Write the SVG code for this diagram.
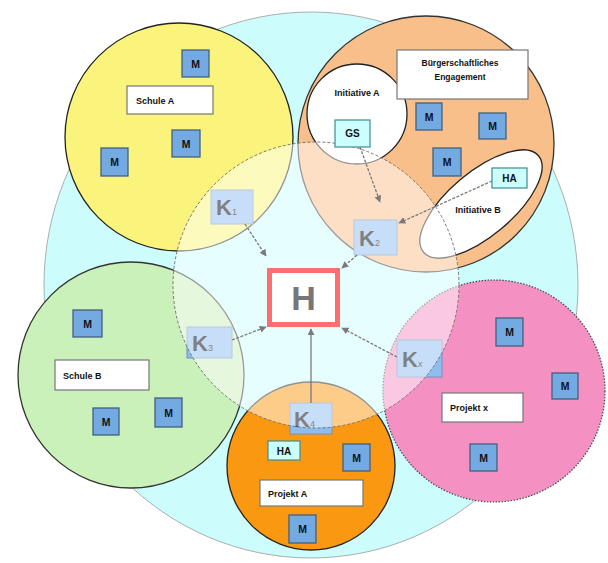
<svg xmlns="http://www.w3.org/2000/svg" width="608" height="563" viewBox="0 0 608 563">
<defs>
<style>
.t{font-family:"Liberation Sans",Arial,sans-serif;font-weight:bold;fill:#111}
.lbl{fill:#fff;stroke:#777;stroke-width:1.2}
.m rect{fill:#74aae2;stroke:#44607e;stroke-width:1.3}
.m text{font-family:"Liberation Sans",Arial,sans-serif;font-weight:bold;font-size:10.5px;fill:#111;text-anchor:middle}
.c{fill:#ccffff;stroke:#3f8c8c;stroke-width:1.2}
.k rect{fill:#8fbdf0;stroke:#6f92bb;stroke-width:1}
.k text{font-family:"Liberation Sans",Arial,sans-serif;font-weight:bold;fill:#000}
.arr{stroke:#7a7a7a;stroke-width:1.3;fill:none;stroke-dasharray:3 1.5;marker-end:url(#ah)}
</style>
<marker id="ah" viewBox="0 0 10 10" refX="9" refY="5" markerWidth="7" markerHeight="7" orient="auto" markerUnits="userSpaceOnUse">
<path d="M0,0 L10,5 L0,10 z" fill="#7a7a7a"/>
</marker>
</defs>
<rect width="608" height="563" fill="#fff"/>
<g id="bg"><ellipse cx="311" cy="285" rx="267" ry="273" fill="#ccfcfc" stroke="#9a9a9a" stroke-width="0.8"/></g>
<g id="schuleA-circle"><circle cx="179" cy="137" r="114" fill="#fbf47c" stroke="#222" stroke-width="1.3"/></g>
<g id="buerger-circle"><circle cx="426" cy="144" r="128" fill="#f8bf8b" stroke="#333" stroke-width="1.3"/></g>
<g id="schuleB-circle"><circle cx="131" cy="375" r="113" fill="#cbf1bb" stroke="#333" stroke-width="1.3"/></g>
<g id="projektx-circle"><circle cx="494" cy="391" r="111" fill="#f590c2" stroke="#444" stroke-width="1.2" stroke-dasharray="1.5 1.5"/></g>
<g id="projektA-circle"><circle cx="311" cy="466" r="84" fill="#fa9812" stroke="#222" stroke-width="1.3"/></g>
<g id="initiativeA-circle"><circle cx="357" cy="114" r="50" fill="#fff" stroke="#222" stroke-width="1.3"/></g>
<g id="initiativeB-ellipse"><ellipse cx="481" cy="204" rx="75" ry="32" transform="rotate(-40 481 204)" fill="#fff" stroke="#222" stroke-width="1.3"/></g>
<g id="K1" class="k"><rect x="211" y="190" width="42" height="34"/><text x="216" y="215" font-size="22">K<tspan font-size="9" font-weight="normal">1</tspan></text></g>
<g id="K2" class="k"><rect x="354" y="220" width="43" height="35"/><text x="359" y="246" font-size="22">K<tspan font-size="9" font-weight="normal">2</tspan></text></g>
<g id="K3" class="k"><rect x="187" y="327" width="45" height="31"/><text x="192" y="351" font-size="22">K<tspan font-size="9" font-weight="normal">3</tspan></text></g>
<g id="K4" class="k"><rect x="290" y="403" width="42" height="31"/><text x="294" y="427" font-size="22">K<tspan font-size="9" font-weight="normal">4</tspan></text></g>
<g id="Kx" class="k"><rect x="397" y="340" width="45" height="37"/><text x="402" y="367" font-size="22">K<tspan font-size="9" font-weight="normal">x</tspan></text></g>
<g id="center-circle"><circle cx="316" cy="285" r="143" fill="#fff" fill-opacity="0.5" stroke="#777" stroke-width="1" stroke-dasharray="3 2"/></g>
<g id="H"><rect x="269.5" y="270.5" width="68" height="54" fill="#fff" stroke="#ff6e6e" stroke-width="5"/><text x="303.5" y="310" font-family="Liberation Sans, Arial, sans-serif" font-weight="bold" font-size="34" fill="#777" text-anchor="middle">H</text></g>
<g id="connectors">
<line class="arr" x1="245" y1="224" x2="266" y2="256"/>
<line class="arr" x1="357" y1="255" x2="342" y2="268"/>
<line class="arr" x1="232" y1="340" x2="266" y2="327"/>
<line class="arr" x1="311" y1="403" x2="311" y2="329" style="stroke-dasharray:none"/>
<line class="arr" x1="397" y1="357" x2="342" y2="328"/>
<line class="arr" x1="360" y1="147" x2="380" y2="202"/>
<line class="arr" x1="492" y1="181" x2="399" y2="223"/>
</g>
<g id="schuleA-label"><rect class="lbl" x="127" y="86" width="86" height="28"/><text class="t" x="136" y="104" font-size="9">Schule A</text></g>
<g id="schuleB-label"><rect class="lbl" x="55" y="360" width="94" height="30"/><text class="t" x="63" y="379" font-size="9">Schule B</text></g>
<g id="projektx-label"><rect class="lbl" x="442" y="393" width="81" height="29"/><text class="t" x="450" y="411" font-size="9">Projekt x</text></g>
<g id="projektA-label"><rect class="lbl" x="260" y="480" width="103" height="26"/><text class="t" x="268" y="497" font-size="9">Projekt A</text></g>
<g id="buerger-label"><rect class="lbl" x="397" y="50" width="131" height="49"/><text class="t" x="460" y="66" font-size="8.5" text-anchor="middle">Bürgerschaftliches</text><text class="t" x="460" y="80" font-size="8.5" text-anchor="middle">Engagement</text></g>
<g id="initiativeA-label"><text class="t" x="357" y="96" font-size="9" text-anchor="middle">Initiative A</text></g>
<g id="initiativeB-label"><text class="t" x="478" y="213" font-size="9" text-anchor="middle">Initiative B</text></g>
<g id="GS"><rect class="c" x="335" y="120" width="35" height="27"/><text class="t" x="352.5" y="137" font-size="10" text-anchor="middle">GS</text></g>
<g id="HA-B"><rect class="c" x="492" y="168" width="35" height="20"/><text class="t" x="509.5" y="182" font-size="10" text-anchor="middle">HA</text></g>
<g id="HA-A"><rect class="c" x="268" y="441" width="32" height="19"/><text class="t" x="284" y="454.5" font-size="10" text-anchor="middle">HA</text></g>
<g id="M1" class="m"><rect x="182" y="50" width="27" height="27"/><text x="195.5" y="67.5">M</text></g>
<g id="M2" class="m"><rect x="172" y="130" width="28" height="27"/><text x="186" y="147.5">M</text></g>
<g id="M3" class="m"><rect x="101" y="148" width="27" height="28"/><text x="114.5" y="166">M</text></g>
<g id="M4" class="m"><rect x="416" y="103" width="26" height="27"/><text x="429" y="120.5">M</text></g>
<g id="M5" class="m"><rect x="479" y="113" width="27" height="26"/><text x="492.5" y="130">M</text></g>
<g id="M6" class="m"><rect x="433" y="148" width="28" height="28"/><text x="447" y="166">M</text></g>
<g id="M7" class="m"><rect x="73" y="310" width="29" height="27"/><text x="87.5" y="327.5">M</text></g>
<g id="M8" class="m"><rect x="93" y="408" width="26" height="27"/><text x="106" y="425.5">M</text></g>
<g id="M9" class="m"><rect x="155" y="398" width="27" height="29"/><text x="168.5" y="416.5">M</text></g>
<g id="M10" class="m"><rect x="496" y="318" width="27" height="28"/><text x="509.5" y="336">M</text></g>
<g id="M11" class="m"><rect x="552" y="373" width="26" height="26"/><text x="565" y="390">M</text></g>
<g id="M12" class="m"><rect x="470" y="444" width="27" height="27"/><text x="483.5" y="461.5">M</text></g>
<g id="M13" class="m"><rect x="343" y="444" width="27" height="27"/><text x="356.5" y="461.5">M</text></g>
<g id="M14" class="m"><rect x="289" y="515" width="27" height="28"/><text x="302.5" y="533">M</text></g>
</svg>
